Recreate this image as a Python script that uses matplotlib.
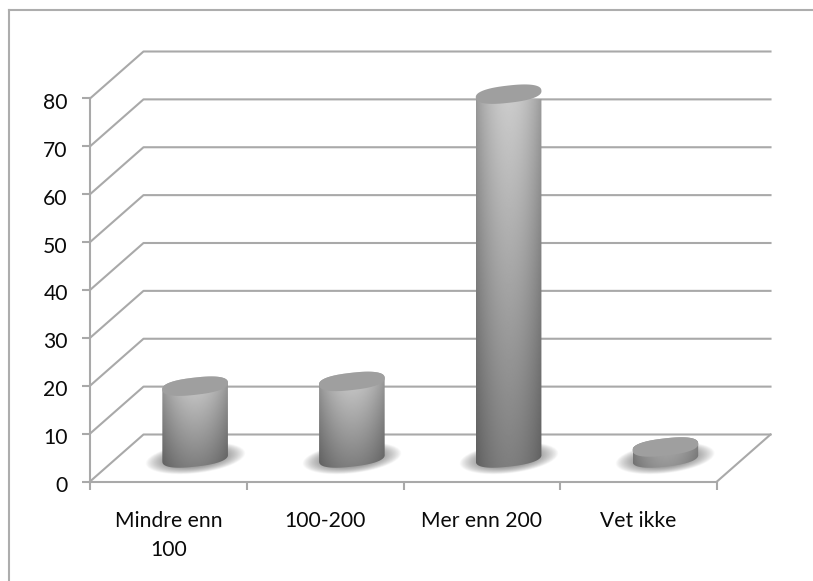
import numpy as np
import matplotlib
matplotlib.use("Agg")
import matplotlib.pyplot as plt
from matplotlib.lines import Line2D
from matplotlib.patches import Polygon
from matplotlib.transforms import ScaledTranslation

categories = ["Mindre enn\n100", "100-200", "Mer enn 200", "Vet ikke"]
values = [15, 16, 76, 2.3]
y_ticks = [0, 10, 20, 30, 40, 50, 60, 70, 80]

W, H = 813, 581
L, R, B, T = 90, 717, 481.5, 98.5
GRID = "#a9a9a9"

plt.rcParams["font.family"] = ["Lato", "DejaVu Sans"]
fig = plt.figure(figsize=(W / 100, H / 100), dpi=100, facecolor="white")
ax = fig.add_axes([L / W, 1 - B / H, (R - L) / W, (B - T) / H])
ax.patch.set_alpha(0)
n = len(categories)
ymax = y_ticks[-1]
PX = (R - L) / n          # pixels per category
PY = (B - T) / ymax       # pixels per value unit
DX, DY = 53.5 / PX, 47 / PY  # depth offset in data units

# figure frame
for xs, ys in (([9, 9], [10, H]), ([9, W], [10, 10])):
    fig.add_artist(Line2D(np.array(xs) / W, 1 - np.array(ys) / H, color="#adadad", lw=1.5))

# oblique walls and floor
for v in y_ticks:
    ax.plot([0, DX, n + DX], [v, v + DY, v + DY], color=GRID, lw=1.5, clip_on=False, zorder=1)
ax.plot([n, n + DX], [0, DY], color=GRID, lw=1.5, clip_on=False, zorder=1)

a, b, th = 33.0, 8.6, np.radians(6.5)


def ellipse(cx, cy, t):
    ct, st = np.cos(t), np.sin(t)
    ct = np.sign(ct) * np.abs(ct) ** 0.82
    st = np.sign(st) * np.abs(st) ** 0.82
    x = a * ct * np.cos(th) - b * st * np.sin(th)
    y = a * ct * np.sin(th) + b * st * np.cos(th)
    return cx + x / PX, cy + y / PY


for i, val in enumerate(values):
    cx = i + 0.5 + DX / 2
    base = DY / 2
    top = base + val

    # soft floor shadow
    gx = np.linspace(-60, 60, 200)
    gy = np.linspace(-25, 25, 100)
    X, Y = np.meshgrid(gx, gy)
    sx = X * np.cos(th) + Y * np.sin(th)
    sy = -X * np.sin(th) + Y * np.cos(th)
    r2 = (sx / 50) ** 2 + (sy / 15) ** 2
    shadow = np.zeros(X.shape + (4,))
    shadow[..., :3] = 0.42
    shadow[..., 3] = np.clip(1 - r2, 0, 1) ** 0.9 * 0.95
    ax.imshow(shadow, origin="lower", aspect="auto", zorder=2, interpolation="bilinear",
              extent=(cx - 60 / PX, cx + 60 / PX, base - 25 / PY - 1 / PY, base + 25 / PY - 1 / PY))

    # cylinder body
    t0 = 0.0
    low = np.linspace(t0 + np.pi, t0 + 2 * np.pi, 80)
    up = np.linspace(t0, t0 + np.pi, 80)
    bx, by = ellipse(cx, base, low)
    tx, ty = ellipse(cx, top, up)
    outline = np.column_stack([np.r_[bx, tx], np.r_[by, ty]])
    x0, x1 = outline[:, 0].min(), outline[:, 0].max()
    y0, y1 = outline[:, 1].min(), outline[:, 1].max()
    u = np.linspace(-1, 1, 160)
    h_px = max(int((y1 - y0) * PY), 2)
    vv = np.linspace(0, 1, h_px)
    U, V = np.meshgrid(u, vv)
    prof = np.cos(U * np.pi / 2) ** 0.8
    depth = min(1, (y1 - y0) * PY / 90)
    lum = (0.47 + 0.30 * V * depth + (1 - depth) * 0.12) * (0.78 + 0.27 * prof)
    body = ax.imshow(np.clip(lum, 0, 1), cmap="gray", vmin=0, vmax=1, origin="lower", aspect="auto",
                     extent=(x0, x1, y0, y1), zorder=3, interpolation="bilinear")
    body.set_clip_path(Polygon(outline, closed=True, transform=ax.transData))

    # cylinder top
    ex, ey = ellipse(cx, top, np.linspace(0, 2 * np.pi, 160))
    ax.fill(ex, ey, color="#9f9f9f", lw=0, zorder=4, clip_on=False)

ax.set_xlim(0, n)
ax.set_ylim(0, ymax)
for s in ("top", "right"):
    ax.spines[s].set_visible(False)
for s in ("left", "bottom"):
    ax.spines[s].set_color(GRID)
    ax.spines[s].set_linewidth(1.5)
ax.set_yticks(y_ticks)
ax.set_yticklabels([str(v) for v in y_ticks])
ax.set_xticks(np.arange(n + 1))
ax.set_xticklabels([])
ax.set_xticks(np.arange(n) + 0.5, minor=True)
ax.set_xticklabels(categories, minor=True, linespacing=1.6, va="top")
ax.tick_params(axis="y", length=6, width=1.5, color=GRID, labelsize=15.2, labelcolor="#0a0a0a", pad=10)
ax.tick_params(axis="x", which="major", length=6, width=1.5, color=GRID)
ax.tick_params(axis="x", which="minor", length=0, labelsize=15.2, labelcolor="#0a0a0a", pad=21)
shift = ScaledTranslation(0, -2.5 / 100, fig.dpi_scale_trans)
for lab in ax.get_yticklabels():
    lab.set_transform(lab.get_transform() + shift)

fig.savefig("out.png", dpi=100, facecolor="white")
